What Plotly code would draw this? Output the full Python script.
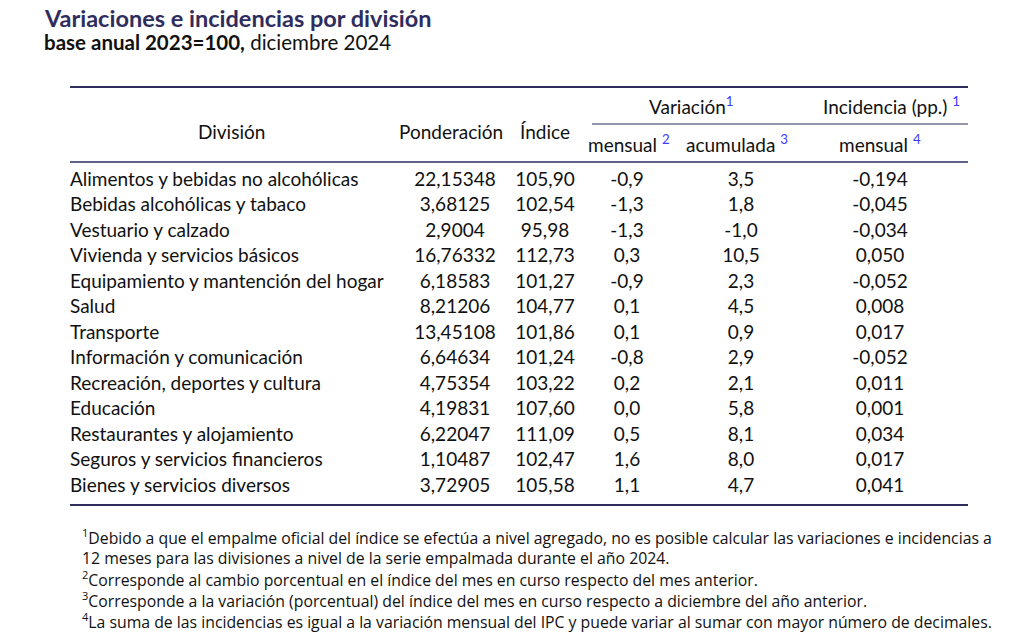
import plotly.graph_objects as go

divisiones = ["Alimentos y bebidas no alcohólicas", "Bebidas alcohólicas y tabaco", "Vestuario y calzado",
              "Vivienda y servicios básicos", "Equipamiento y mantención del hogar", "Salud", "Transporte",
              "Información y comunicación", "Recreación, deportes y cultura", "Educación",
              "Restaurantes y alojamiento", "Seguros y servicios financieros", "Bienes y servicios diversos"]
ponderacion = ["22,15348", "3,68125", "2,9004", "16,76332", "6,18583", "8,21206", "13,45108",
               "6,64634", "4,75354", "4,19831", "6,22047", "1,10487", "3,72905"]
indice = ["105,90", "102,54", "95,98", "112,73", "101,27", "104,77", "101,86",
          "101,24", "103,22", "107,60", "111,09", "102,47", "105,58"]
var_mensual = ["-0,9", "-1,3", "-1,3", "0,3", "-0,9", "0,1", "0,1", "-0,8", "0,2", "0,0", "0,5", "1,6", "1,1"]
var_acumulada = ["3,5", "1,8", "-1,0", "10,5", "2,3", "4,5", "0,9", "2,9", "2,1", "5,8", "8,1", "8,0", "4,7"]
incidencia = ["-0,194", "-0,045", "-0,034", "0,050", "-0,052", "0,008", "0,017",
              "-0,052", "0,011", "0,001", "0,034", "0,017", "0,041"]
notas = [
    "<sup>1</sup>Debido a que el empalme oficial del índice se efectúa a nivel agregado, no es posible calcular las variaciones e incidencias a",
    "12 meses para las divisiones a nivel de la serie empalmada durante el año 2024.",
    "<sup>2</sup>Corresponde al cambio porcentual en el índice del mes en curso respecto del mes anterior.",
    "<sup>3</sup>Corresponde a la variación (porcentual) del índice del mes en curso respecto a diciembre del año anterior.",
    "<sup>4</sup>La suma de las incidencias es igual a la variación mensual del IPC y puede variar al sumar con mayor número de decimales.",
]

FONT = "Lato"
NAVY = "#2e2d5e"
BLUE = "#3b3bff"
fs = 19

y0, dy = 181, 25.5
rows_y = [y0 + i * dy for i in range(len(divisiones))]

fig = go.Figure()

def col(x, vals, pos):
    fig.add_trace(go.Scatter(x=[x] * len(vals), y=rows_y, text=vals, mode="text",
                             textposition=pos, textfont=dict(family=FONT, size=fs, color="#111"),
                             hoverinfo="skip", showlegend=False))

col(70, divisiones, "middle right")
col(455, ponderacion, "middle center")
col(545, indice, "middle center")
col(627, var_mensual, "middle center")
col(741, var_acumulada, "middle center")
col(880, incidencia, "middle center")

def txt(x, y, s, size=fs, color="#111", xanchor="center", family=FONT):
    fig.add_annotation(x=x, y=y, text=s, showarrow=False, xanchor=xanchor, yanchor="middle",
                       font=dict(family=family, size=size, color=color))

# headers
txt(231, 131, "División")
txt(451, 131, "Ponderación")
txt(545, 131, "Índice")
txt(691, 105, f"Variación<sup><span style='color:{BLUE}'>1</span></sup>")
txt(891, 105, f"Incidencia (pp.) <sup><span style='color:{BLUE}'>1</span></sup>")
txt(629, 143, f"mensual <sup><span style='color:{BLUE}'>2</span></sup>")
txt(737, 143, f"acumulada <sup><span style='color:{BLUE}'>3</span></sup>")
txt(880, 143, f"mensual <sup><span style='color:{BLUE}'>4</span></sup>")

# title
txt(42, 18, "<b>Variaciones e incidencias por división</b>", size=23.5, color=NAVY, xanchor="left")
txt(42, 42, "<b>base anual 2023=100,</b> diciembre 2024", size=20.5, color="#111", xanchor="left")

# footnotes
for yy, n in zip([537, 558, 579, 600, 621], notas):
    txt(80, yy, n, size=15.8, xanchor="left", family="Open Sans")

# rules
def hline(x1, x2, y, w):
    fig.add_shape(type="line", x0=x1, x1=x2, y0=y, y1=y, line=dict(color=NAVY, width=w))

hline(70, 968, 87, 2)
hline(592, 968, 124, 1.2)
hline(70, 968, 162, 1.5)
hline(70, 968, 505, 2)

# page body has an 8px margin: map reference pixels 1:1
fig.update_layout(width=1016, height=626, margin=dict(l=0, r=0, t=0, b=0),
                  paper_bgcolor="white", plot_bgcolor="white",
                  xaxis=dict(range=[8, 1024], visible=False, fixedrange=True),
                  yaxis=dict(range=[634, 8], visible=False, fixedrange=True))
fig.write_html("out.html")
